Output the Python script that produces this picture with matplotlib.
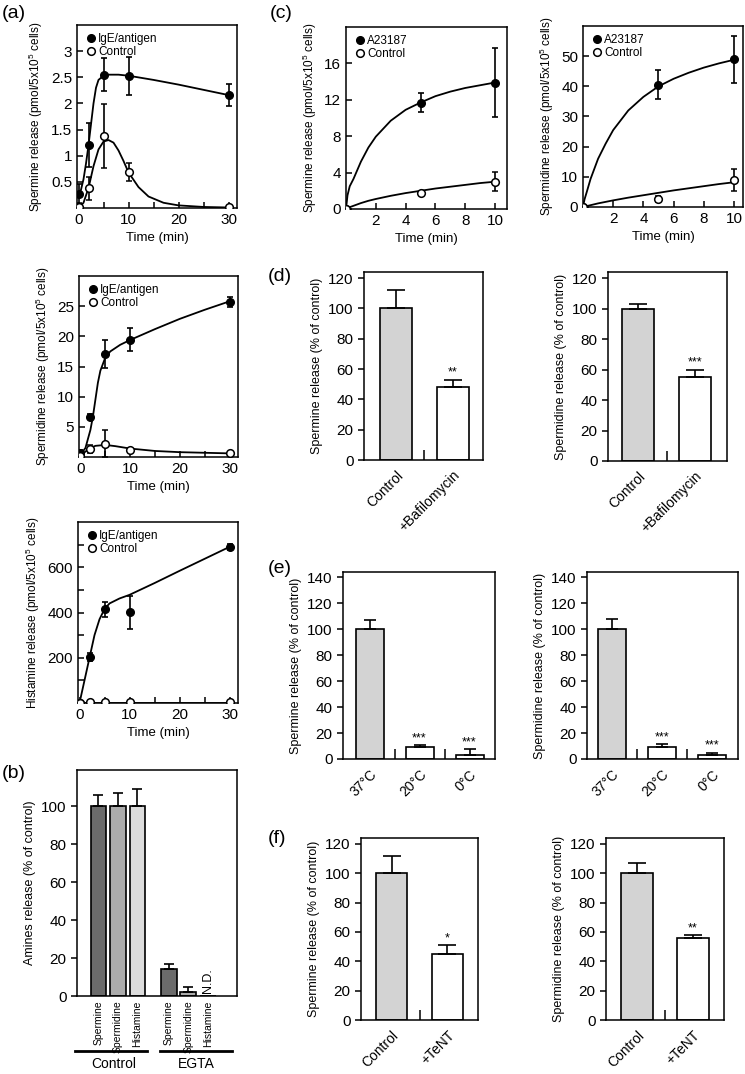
import matplotlib
matplotlib.use('Agg')
import matplotlib.pyplot as plt
from matplotlib.lines import Line2D

plt.rcParams['font.family'] = ['Liberation Sans', 'DejaVu Sans']
plt.rcParams['mathtext.default'] = 'regular'
plt.rcParams['axes.linewidth'] = 1.1

W, H = 745, 1074

# ---- (a) time course after IgE/antigen ----
t_a = [0, 2, 5, 10, 30]
spm_ige = [0.26, 1.2, 2.55, 2.52, 2.16]
spm_ige_err = [0.19, 0.42, 0.32, 0.36, 0.21]
spm_ctl = [0.02, 0.38, 1.37, 0.69, 0.01]
spm_ctl_err = [0.07, 0.22, 0.61, 0.17, 0.02]

spd_ige = [0.6, 6.7, 17.1, 19.4, 25.7]
spd_ige_err = [0.5, 0.4, 2.3, 1.9, 0.8]
spd_ctl = [0.2, 1.3, 2.2, 1.2, 0.7]
spd_ctl_err = [0.5, 0.7, 2.2, 0.3, 0.2]

his_ige = [2, 204, 414, 401, 689]
his_ige_err = [4, 18, 33, 72, 12]
his_ctl = [2, 3, 3, 3, 3]
his_ctl_err = [0, 0, 0, 0, 0]

# fitted curves
spm_ige_ct = [0, 0.5, 1, 1.5, 2, 2.5, 3, 3.5, 4, 5, 6, 7, 8, 10, 15, 20, 25, 30]
spm_ige_cy = [0.2, 0.35, 0.55, 0.85, 1.2, 1.6, 2.0, 2.3, 2.45, 2.53, 2.55, 2.55, 2.55, 2.53, 2.45, 2.36, 2.26, 2.16]
spm_ctl_ct = [0, 1, 2, 3, 4, 5, 6, 7, 8, 9, 10, 12, 14, 17, 20, 25, 30]
spm_ctl_cy = [0.0, 0.1, 0.38, 0.8, 1.12, 1.27, 1.3, 1.25, 1.1, 0.9, 0.68, 0.4, 0.22, 0.1, 0.05, 0.02, 0.01]

spd_ige_ct = [0, 1, 2, 2.5, 3, 3.5, 4, 5, 6, 8, 10, 15, 20, 25, 30]
spd_ige_cy = [0.4, 1.5, 4.5, 6.7, 9.5, 12.3, 14.3, 16.5, 17.5, 18.6, 19.4, 21.2, 22.9, 24.4, 25.8]
spd_ctl_ct = [0, 1, 2, 3, 5, 7, 10, 15, 20, 25, 30]
spd_ctl_cy = [0.2, 0.9, 1.5, 1.85, 2.0, 1.8, 1.4, 1.0, 0.8, 0.7, 0.6]

his_ige_ct = [0, 1, 2, 3, 4, 5, 6, 8, 10, 15, 20, 25, 30]
his_ige_cy = [0, 100, 200, 300, 370, 415, 440, 462, 478, 530, 584, 637, 690]
his_ctl_ct = [0, 30]
his_ctl_cy = [2, 2]

# ---- (b) amines release, control vs EGTA ----
b_pos = [0, 1, 2, 3.6, 4.6, 5.6]
b_labels = ['Spermine', 'Spermidine', 'Histamine', 'Spermine', 'Spermidine', 'Histamine']
b_vals = [100, 100, 100, 14, 2, 0]
b_errs = [6, 7, 9, 3, 2.5, 0]
b_colors = ['#6b6b6b', '#ababab', '#dcdcdc', '#6b6b6b', '#ababab', '#dcdcdc']

# ---- (c) A23187 time course ----
t_c = [0, 5, 10]
c_spm_a = [0, 11.7, 13.9]
c_spm_a_err = [0, 1.0, 3.75]
c_spm_ctl = [0, 1.8, 3.0]
c_spm_ctl_err = [0, 0.1, 1.05]
c_spd_a = [0, 40.5, 48.9]
c_spd_a_err = [0, 4.8, 7.9]
c_spd_ctl = [0, 2.8, 9.0]
c_spd_ctl_err = [0, 1.0, 3.7]

c_ct = [0, 0.1, 0.25, 0.5, 1, 1.5, 2, 3, 4, 5, 6, 7, 8, 9, 10]
c_spm_a_cy = [0, 1.5, 2.5, 3.3, 5.2, 6.75, 7.95, 9.7, 10.9, 11.7, 12.4, 12.9, 13.3, 13.6, 13.9]
c_spm_ctl_cy = [0, 0.1, 0.2, 0.35, 0.65, 0.9, 1.1, 1.45, 1.75, 2.0, 2.25, 2.45, 2.65, 2.85, 3.0]
c_spd_a_cy = [0, 2.5, 5, 9.3, 16, 21, 25.5, 32, 36.5, 40, 42.5, 44.5, 46.2, 47.6, 48.8]
c_spd_ctl_cy = [0, 0.12, 0.3, 0.6, 1.2, 1.7, 2.2, 3.1, 3.9, 4.7, 5.5, 6.2, 6.9, 7.6, 8.2]

# ---- (d) bafilomycin ----
d_labels = ['Control', '+Bafilomycin']
d_spm = [100, 48]
d_spm_err = [12, 5]
d_spm_stars = ['', '**']
d_spd = [100, 55]
d_spd_err = [3, 5]
d_spd_stars = ['', '***']

# ---- (e) temperature ----
e_labels = ['37\u00b0C', '20\u00b0C', '0\u00b0C']
e_spm = [100, 9.5, 3]
e_spm_err = [7, 1, 5]
e_spd = [100, 9, 3]
e_spd_err = [8, 2.5, 2]
e_stars = ['', '***', '***']

# ---- (f) tetanus toxin ----
f_labels = ['Control', '+TeNT']
f_spm = [100, 45]
f_spm_err = [12, 6]
f_spm_stars = ['', '*']
f_spd = [100, 56]
f_spd_err = [7, 2]
f_spd_stars = ['', '**']

bar_colors = ['#d3d3d3', 'white', 'white']

fig = plt.figure(figsize=(W / 100, H / 100), dpi=100)


def rect(l, t, r, b):
    return [l / W, 1 - b / H, (r - l) / W, (b - t) / H]


def time_panel(r, t, y1, e1, y2, e2, ct1, cy1, ct2, cy2, names, ylabel):
    ax = fig.add_axes(r)
    ax.plot(ct1, cy1, color='k', lw=1.3, zorder=2)
    ax.plot(ct2, cy2, color='k', lw=1.3, zorder=2)
    ax.errorbar(t, y1, yerr=e1, fmt='o', color='k', ms=5.5, elinewidth=1.2,
                capsize=2.5, capthick=1.2, zorder=3)
    ax.errorbar(t, y2, yerr=e2, fmt='o', color='k', mfc='white', mec='k', mew=1.1,
                ms=5.5, elinewidth=1.2, capsize=2.5, capthick=1.2, zorder=4)
    handles = [Line2D([], [], marker='o', color='k', ls='none', ms=5.5),
               Line2D([], [], marker='o', mfc='white', mec='k', mew=1.1, ls='none', ms=5.5)]
    ax.legend(handles, names, loc='upper left', frameon=False, fontsize=8.5,
              handletextpad=0.1, handlelength=1.0, borderaxespad=0.3, labelspacing=0.1)
    ax.set_ylabel(ylabel, fontsize=8.5)
    ax.tick_params(direction='in', labelsize=11, width=1.1, length=4)
    ax.tick_params(which='minor', direction='in', width=1.1, length=4)
    return ax


def bar_panel(r, labels, vals, errs, stars, ylabel, ylim, yticks, capsize, xlim):
    ax = fig.add_axes(r)
    x = list(range(len(vals)))
    ax.bar(x, vals, width=0.56, color=bar_colors[:len(vals)], edgecolor='k', lw=1.2)
    ax.errorbar(x, vals, yerr=[[0] * len(vals), errs], fmt='none', ecolor='k',
                elinewidth=1.2, capsize=capsize, capthick=1.2)
    for i, s in enumerate(stars):
        if s:
            ax.text(i, vals[i] + errs[i] + 0.5, s, ha='center', va='bottom', fontsize=9)
    ax.set_xlim(xlim)
    ax.set_ylim(ylim)
    ax.set_yticks(yticks)
    ax.set_xticks(x)
    ax.set_xticklabels(labels, rotation=45, ha='right', rotation_mode='anchor', fontsize=10)
    ax.set_xticks([i + 0.5 for i in range(len(vals) - 1)], minor=True)
    ax.tick_params(axis='x', which='major', length=0, pad=6)
    ax.tick_params(axis='x', which='minor', direction='in', length=7, width=1.1)
    ax.tick_params(axis='y', direction='out', labelsize=11, width=1.1, length=4)
    ax.set_ylabel(ylabel, fontsize=9)
    return ax


leg_a = ['IgE/antigen', 'Control']

ax = time_panel(rect(77, 25, 237, 208), t_a, spm_ige, spm_ige_err, spm_ctl, spm_ctl_err,
                spm_ige_ct, spm_ige_cy, spm_ctl_ct, spm_ctl_cy, leg_a,
                'Spermine release (pmol/5x10$^5$ cells)')
ax.set_xlim(-0.3, 31.7)
ax.set_ylim(0, 3.5)
ax.set_yticks([0.5, 1, 1.5, 2, 2.5, 3])
ax.set_yticklabels(['0.5', '1', '1.5', '2', '2.5', '3'])
ax.set_xticks([0, 10, 20, 30])
ax.set_xticks([5, 15, 25], minor=True)
ax.set_xlabel('Time (min)', fontsize=9.5)

ax = time_panel(rect(79, 276, 238, 457), t_a, spd_ige, spd_ige_err, spd_ctl, spd_ctl_err,
                spd_ige_ct, spd_ige_cy, spd_ctl_ct, spd_ctl_cy, leg_a,
                'Spermidine release (pmol/5x10$^5$ cells)')
ax.set_xlim(-0.3, 31.7)
ax.set_ylim(0, 30)
ax.set_yticks([5, 10, 15, 20, 25])
ax.set_xticks([0, 10, 20, 30])
ax.set_xticks([5, 15, 25], minor=True)
ax.set_xlabel('Time (min)', fontsize=9.5)

ax = time_panel(rect(78, 522, 238, 703), t_a, his_ige, his_ige_err, his_ctl, his_ctl_err,
                his_ige_ct, his_ige_cy, his_ctl_ct, his_ctl_cy, leg_a,
                'Histamine release (pmol/5x10$^5$ cells)')
ax.set_xlim(-0.3, 31.7)
ax.set_ylim(0, 800)
ax.set_yticks([200, 400, 600])
ax.set_yticks([100, 300, 500, 700], minor=True)
ax.set_xticks([0, 10, 20, 30])
ax.set_xticks([5, 15, 25], minor=True)
ax.set_xlabel('Time (min)', fontsize=9.5)

# (b)
ax = fig.add_axes(rect(77, 770, 237, 996))
ax.bar(b_pos, b_vals, width=0.8, color=b_colors, edgecolor='k', lw=1.2)
ax.errorbar(b_pos[:5], b_vals[:5], yerr=[[0] * 5, b_errs[:5]], fmt='none', ecolor='k',
            elinewidth=1.2, capsize=3.5, capthick=1.2)
ax.text(b_pos[5], 1.5, 'N.D.', rotation=90, ha='center', va='bottom', fontsize=9)
ax.set_xlim(-1.1, 7.1)
ax.set_ylim(0, 119)
ax.set_yticks([0, 20, 40, 60, 80, 100])
ax.set_xticks(b_pos)
ax.set_xticklabels(b_labels, rotation=90, fontsize=7.5)
ax.tick_params(axis='x', length=0, pad=3)
ax.tick_params(axis='y', direction='out', labelsize=11, width=1.1, length=4)
ax.set_ylabel('Amines release (% of control)', fontsize=9)
tr = ax.get_xaxis_transform()
ax.plot([-1.2, 2.5], [-0.245, -0.245], color='k', lw=2, transform=tr, clip_on=False)
ax.plot([3.15, 6.85], [-0.245, -0.245], color='k', lw=2, transform=tr, clip_on=False)
ax.text(0.8, -0.27, 'Control', transform=tr, ha='center', va='top', fontsize=10)
ax.text(5.0, -0.27, 'EGTA', transform=tr, ha='center', va='top', fontsize=10)

# (c)
leg_c = ['A23187', 'Control']
ax = time_panel(rect(346, 27, 507, 209), t_c, c_spm_a, c_spm_a_err, c_spm_ctl, c_spm_ctl_err,
                c_ct, c_spm_a_cy, c_ct, c_spm_ctl_cy, leg_c,
                'Spermine release (pmol/5x10$^5$ cells)')
ax.set_xlim(0, 10.8)
ax.set_ylim(0, 20)
ax.set_yticks([0, 4, 8, 12, 16])
ax.set_xticks([2, 4, 6, 8, 10])
ax.set_xlabel('Time (min)', fontsize=9.5)

ax = time_panel(rect(583, 26, 743, 207), t_c, c_spd_a, c_spd_a_err, c_spd_ctl, c_spd_ctl_err,
                c_ct, c_spd_a_cy, c_ct, c_spd_ctl_cy, leg_c,
                'Spermidine release (pmol/5x10$^5$ cells)')
ax.set_xlim(0, 10.6)
ax.set_ylim(0, 60)
ax.set_yticks([0, 10, 20, 30, 40, 50])
ax.set_xticks([2, 4, 6, 8, 10])
ax.set_xlabel('Time (min)', fontsize=9.5)

# (d)
bar_panel(rect(364, 272, 483, 460), d_labels, d_spm, d_spm_err, d_spm_stars,
          'Spermine release (% of control)', (0, 124), [0, 20, 40, 60, 80, 100, 120], 6.5, (-0.56, 1.53))
bar_panel(rect(608, 272, 727, 461), d_labels, d_spd, d_spd_err, d_spd_stars,
          'Spermidine release (% of control)', (0, 124), [0, 20, 40, 60, 80, 100, 120], 6.5, (-0.53, 1.56))

# (e)
bar_panel(rect(343, 572, 495, 759), e_labels, e_spm, e_spm_err, e_stars,
          'Spermine release (% of control)', (0, 144), [0, 20, 40, 60, 80, 100, 120, 140], 4.5, (-0.53, 2.51))
bar_panel(rect(587, 572, 738, 759), e_labels, e_spd, e_spd_err, e_stars,
          'Spermidine release (% of control)', (0, 144), [0, 20, 40, 60, 80, 100, 120, 140], 4.5, (-0.5, 2.52))

# (f)
bar_panel(rect(361, 838, 478, 1020), f_labels, f_spm, f_spm_err, f_spm_stars,
          'Spermine release (% of control)', (0, 124), [0, 20, 40, 60, 80, 100, 120], 6.5, (-0.55, 1.55))
bar_panel(rect(606, 838, 724, 1020), f_labels, f_spd, f_spd_err, f_spd_stars,
          'Spermidine release (% of control)', (0, 124), [0, 20, 40, 60, 80, 100, 120], 6.5, (-0.55, 1.55))

# panel letters
for lab, x, y in [('(a)', 2, 5), ('(b)', 2, 765), ('(c)', 270, 5),
                  ('(d)', 268, 268), ('(e)', 268, 560), ('(f)', 268, 830)]:
    fig.text(x / W, 1 - y / H, lab, ha='left', va='top', fontsize=14)

fig.savefig('out.png', dpi=100)
